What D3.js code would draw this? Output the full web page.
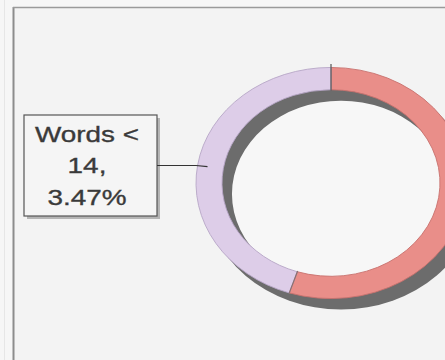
<!DOCTYPE html>
<html>
<head>
<meta charset="utf-8">
<script src="https://cdn.jsdelivr.net/npm/d3@7"></script>
<style>
  html, body { margin: 0; padding: 0; background: #f5f5f5; }
  svg { display: block; }
</style>
</head>
<body>
<svg id="chart" width="445" height="360"></svg>
<script>
// ---- data ----
const categories = ["Other", "Words < 14"];
const values = [55, 45];
const colors = ["#e98e89", "#ddcde8"];
const edgeColors = ["#c8726e", "#b7a6c6"];
const labelLines = ["Words <", "14,", "3.47%"];
const labelIndex = 1;

const W = 445, H = 360;
const svg = d3.select("#chart");

// background + frame
svg.append("rect").attr("width", W).attr("height", H).attr("fill", "#f6f6f6");
svg.append("rect").attr("x", 14).attr("y", 8).attr("width", W).attr("height", H)
  .attr("fill", "#f3f3f3");
svg.append("line").attr("x1", 13.5).attr("x2", 13.5).attr("y1", 7).attr("y2", H)
  .attr("stroke", "#8c8c8c").attr("stroke-width", 2);
svg.append("line").attr("x1", 13).attr("x2", W).attr("y1", 7.5).attr("y2", 7.5)
  .attr("stroke", "#9a9a9a").attr("stroke-width", 1.5);
svg.append("line").attr("x1", 4.5).attr("x2", 4.5).attr("y1", 0).attr("y2", H)
  .attr("stroke", "#e6e6e6").attr("stroke-width", 1);

// geometry
const cx = 331, cy = 183;
const R = 135, r = 109, sy = 0.856;
const dx = 10, dy = 11;
const shadow = "#6c6c6c";

const pie = d3.pie().sort(null).value(d => d);
const arcs = pie(values);
const arc = d3.arc().innerRadius(r).outerRadius(R);
const full = d3.arc().innerRadius(0).outerRadius(R).startAngle(0).endAngle(2 * Math.PI);
const innerFull = d3.arc().innerRadius(0).outerRadius(r).startAngle(0).endAngle(2 * Math.PI);

// depth / shadow
const gShadow = svg.append("g").attr("transform", `translate(${cx + dx},${cy + dy}) scale(1,${sy})`);
gShadow.append("path").attr("d", full()).attr("fill", shadow);

// inner wall (visible through the hole)
const gWall = svg.append("g").attr("transform", `translate(${cx},${cy}) scale(1,${sy})`);
gWall.append("path").attr("d", innerFull()).attr("fill", shadow);
const gHole = svg.append("g").attr("transform", `translate(${cx + dx},${cy + dy}) scale(1,${sy})`);
gHole.append("path").attr("d", innerFull()).attr("fill", "#f7f7f7");

// top face of ring
const gTop = svg.append("g").attr("transform", `translate(${cx},${cy}) scale(1,${sy})`);
gTop.selectAll("path.slice").data(arcs).join("path")
  .attr("class", "slice")
  .attr("d", arc)
  .attr("fill", (d, i) => colors[i])
  .attr("stroke", (d, i) => edgeColors[i])
  .attr("stroke-width", 0.9)
  .attr("vector-effect", "non-scaling-stroke");

// slice separators
arcs.forEach((d, i) => {
  const a = d.startAngle;
  const ext = i === 0 ? 4 : 0;
  const x1 = cx + (r - 1) * Math.sin(a), y1 = cy - (r - 1) * Math.cos(a) * sy;
  const x2 = cx + (R + ext) * Math.sin(a), y2 = cy - (R + ext) * Math.cos(a) * sy;
  svg.append("line").attr("x1", x1).attr("y1", y1).attr("x2", x2).attr("y2", y2)
    .attr("stroke", i === 0 ? "#555" : "#8a6f6f").attr("stroke-width", 1.2);
});

// label box
const bx = 24, by = 115, bw = 133, bh = 101;
svg.append("rect").attr("x", bx + 3).attr("y", by + 3).attr("width", bw).attr("height", bh)
  .attr("fill", "#b5b5b5");
svg.append("rect").attr("x", bx).attr("y", by).attr("width", bw).attr("height", bh)
  .attr("fill", "#f5f5f5").attr("stroke", "#555").attr("stroke-width", 1.2);

const tg = svg.append("g").attr("transform", `translate(87,0) scale(1.24,1)`);
const baselines = [142, 173, 205];
tg.selectAll("text").data(labelLines).join("text")
  .attr("x", 0).attr("y", (d, i) => baselines[i])
  .attr("text-anchor", "middle")
  .attr("font-family", "Liberation Sans, Arial, sans-serif")
  .attr("font-size", 22.5)
  .attr("fill", "#3a3a3a")
  .attr("stroke", "#3a3a3a")
  .attr("stroke-width", 0.35)
  .text(d => d);

// leader line to the labelled slice
const c = arc.centroid(arcs[labelIndex]);
const px = cx + c[0] - 3, py = cy + c[1] * sy;
svg.append("path")
  .attr("d", `M${bx + bw},${by + 50.5} L${cx - R},${by + 50.5} L${px},${py}`)
  .attr("fill", "none").attr("stroke", "#333").attr("stroke-width", 1.1);
</script>
</body>
</html>
